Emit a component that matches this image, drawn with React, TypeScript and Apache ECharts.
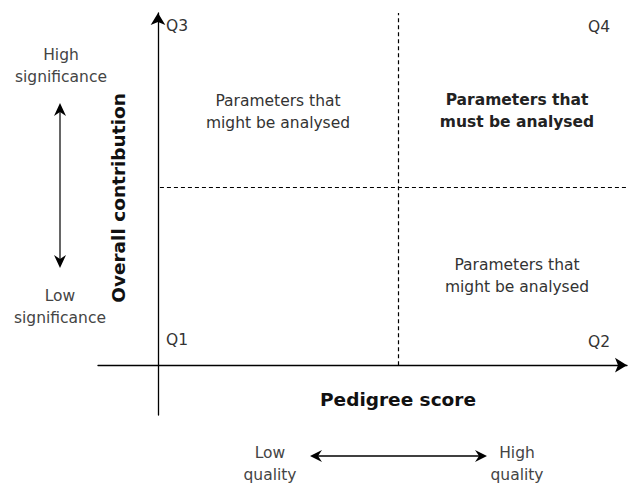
import React, { useEffect, useRef } from "react";
import * as echarts from "echarts";

const xAxisTitle = "Pedigree score";
const yAxisTitle = "Overall contribution";
const xEndLabels = ["Low\nquality", "High\nquality"];
const yEndLabels = ["Low\nsignificance", "High\nsignificance"];
const quadrantNames = ["Q1", "Q2", "Q3", "Q4"];
const quadrantNotes = [
  "",
  "Parameters that\nmight be analysed",
  "Parameters that\nmight be analysed",
  "Parameters that\nmust be analysed",
];
const xDivider = 50;
const yDivider = 50;
const xRange = [-12.5, 97.7];
const yRange = [-14, 98.9];

const FONT = "DejaVu Sans";

export default function App() {
  const ref = useRef<HTMLDivElement>(null);
  useEffect(() => {
    if (!ref.current) return;
    const chart = echarts.init(ref.current, null, { renderer: "svg" });
    const txt = (x: number, y: number, text: string, o: any = {}) => ({
      type: "text",
      x,
      y,
      rotation: o.rotation || 0,
      style: {
        text,
        fill: o.fill || "#333",
        font: `${o.weight || "normal"} ${o.size || 15.5}px "${FONT}"`,
        textAlign: o.align || "center",
        textVerticalAlign: "middle",
        lineHeight: o.lh || 22,
      },
    });
    const axisCommon = {
      type: "value",
      axisTick: { show: false },
      axisLabel: { show: false },
      splitLine: { show: false },
      axisLine: {
        show: true,
        onZero: true,
        symbol: ["none", "arrow"],
        symbolSize: [11, 12],
        lineStyle: { color: "#000", width: 1.3 },
      },
    };
    chart.setOption({
      animation: false,
      grid: { left: 98, right: 1, top: 13, bottom: 69, containLabel: false },
      xAxis: { ...axisCommon, min: xRange[0], max: xRange[1] },
      yAxis: { ...axisCommon, min: yRange[0], max: yRange[1] },
      series: [
        {
          type: "scatter",
          data: [],
          markLine: {
            silent: true,
            symbol: "none",
            label: { show: false },
            lineStyle: { type: [4, 3], color: "#000", width: 1.2 },
            data: [
              [{ coord: [xDivider, 0] }, { coord: [xDivider, yRange[1]] }],
              [{ coord: [0.4, yDivider] }, { coord: [xRange[1], yDivider] }],
            ],
          },
        },
      ],
      graphic: [
        txt(166, 26, quadrantNames[2], { align: "left" }),
        txt(610, 27, quadrantNames[3], { align: "right" }),
        txt(166, 340, quadrantNames[0], { align: "left" }),
        txt(610, 342, quadrantNames[1], { align: "right" }),
        txt(278, 112, quadrantNotes[2]),
        txt(517, 111, quadrantNotes[3], { weight: "bold", fill: "#222" }),
        txt(517, 276, quadrantNotes[1]),
        txt(398, 399, xAxisTitle, { weight: "bold", size: 18.5, fill: "#111" }),
        txt(118, 198, yAxisTitle, {
          weight: "bold",
          size: 18.5,
          fill: "#111",
          rotation: Math.PI / 2,
        }),
        txt(61, 66, yEndLabels[1], { fill: "#444" }),
        txt(60, 307, yEndLabels[0], { fill: "#444" }),
        txt(270, 464, xEndLabels[0], { fill: "#444" }),
        txt(517, 464, xEndLabels[1], { fill: "#444" }),
        {
          type: "line",
          shape: { x1: 60, y1: 110, x2: 60, y2: 262 },
          style: { stroke: "#666", lineWidth: 2 },
        },
        {
          type: "polygon",
          shape: { points: [[60, 103], [54, 116], [60, 112], [66, 116]] },
          style: { fill: "#000" },
        },
        {
          type: "polygon",
          shape: { points: [[60, 268], [54, 255], [60, 259], [66, 255]] },
          style: { fill: "#000" },
        },
        {
          type: "line",
          shape: { x1: 316, y1: 456, x2: 481, y2: 456 },
          style: { stroke: "#000", lineWidth: 1.5 },
        },
        {
          type: "polygon",
          shape: { points: [[310, 456], [322, 450], [318, 456], [322, 462]] },
          style: { fill: "#000" },
        },
        {
          type: "polygon",
          shape: { points: [[487, 456], [475, 450], [479, 456], [475, 462]] },
          style: { fill: "#000" },
        },
      ],
    });
    return () => chart.dispose();
  }, []);
  return (
    <div
      ref={ref}
      style={{ position: "fixed", left: 0, top: 0, width: 628, height: 484, background: "#fff" }}
    />
  );
}
